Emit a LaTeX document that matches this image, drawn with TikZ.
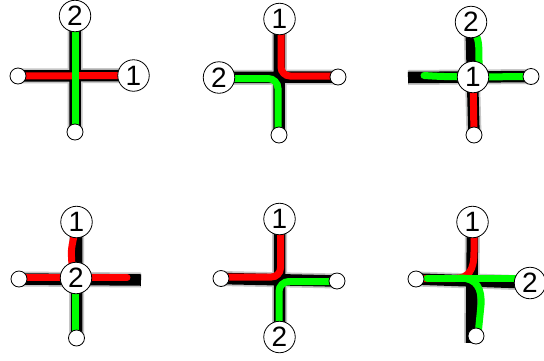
\documentclass[tikz,border=0pt]{standalone}
\usepackage{fontspec}
\setmainfont{Liberation Sans}
\definecolor{pred}{RGB}{255,0,0}
\definecolor{pgreen}{RGB}{0,255,0}
\begin{document}
\begin{tikzpicture}[x=1pt,y=-1pt,
  shadow/.style={draw=gray!45,line width=15pt,line cap=butt},
  wire/.style={draw=black,line width=11.5pt,line cap=butt},
  rw/.style={draw=pred,line width=7pt,line cap=round},
  gw/.style={draw=pgreen,line width=7pt,line cap=round},
  num/.style={circle,draw=black,fill=white,line width=0.8pt,minimum size=31.5pt,inner sep=0pt,font=\fontsize{28}{28}\selectfont},
  term/.style={circle,draw=black,fill=white,line width=0.8pt,minimum size=16pt,inner sep=0pt}]
\useasboundingbox[fill=white] (0,0) rectangle (544,360);
% ---------- coordinates ----------
% panel A
\coordinate (A1) at (133.5,75.5);
\coordinate (A2) at (75,16);
\coordinate (Al) at (18,76);
\coordinate (Ab) at (75,132);
% panel B
\coordinate (B1) at (279.5,19);
\coordinate (B2) at (219,77.5);
\coordinate (Br) at (338,77);
\coordinate (Bb) at (279,135);
\coordinate (Brc) at (281,76);
\coordinate (Bgc) at (278,78.5);
% panel C
\coordinate (C1) at (473,77);
\coordinate (C2) at (471,22);
\coordinate (Cr) at (531,76.5);
\coordinate (Cb) at (474,135);
\coordinate (Cle) at (408,77.5);
% panel D
\coordinate (D1) at (76.5,222);
\coordinate (D2) at (76,278);
\coordinate (Dl) at (19,279);
\coordinate (Db) at (76.5,338);
\coordinate (Dre) at (141,280);
% panel E
\coordinate (E1) at (279.5,219);
\coordinate (E2) at (279.5,337);
\coordinate (El) at (221,278.5);
\coordinate (Er) at (337,281);
\coordinate (Erc) at (280.5,277);
\coordinate (Egc) at (279,281.5);
% panel F
\coordinate (F1) at (472.5,222);
\coordinate (F2) at (530,283);
\coordinate (Fl) at (416,279);
\coordinate (Fb) at (476,336);
\coordinate (Fbe) at (471.5,343);
% ---------- black tracks ----------
\draw[shadow] (Al) -- (A1) (A2) -- (Ab);
\draw[wire] (Al) -- (A1) (A2) -- (Ab);
\draw[shadow] (B2) -- (Br) (B1) -- (Bb);
\draw[wire] (B2) -- (Br) (B1) -- (Bb);
\draw[shadow] (Cle) -- (Cr) (C2) -- (Cb);
\draw[wire] (Cle) -- (Cr) (C2) -- (Cb);
\draw[shadow] (Dl) -- (Dre) (D1) -- (Db);
\draw[wire] (Dl) -- (Dre) (D1) -- (Db);
\draw[shadow] (El) -- (Er) (E1) -- (E2);
\draw[wire] (El) -- (Er) (E1) -- (E2);
\draw[shadow] (Fl) -- (F2) (F1) -- (Fbe);
\draw[wire] (Fl) -- (F2) (F1) -- (Fbe);
% ---------- coloured routes ----------
% A
\draw[rw] (Al) -- (A1);
\draw[gw] (A2) -- (Ab);
% B
\draw[rw,rounded corners=9pt] (B1 -| Brc) -- (Brc) -- (Brc -| Br);
\draw[gw,rounded corners=10pt] (B2 |- Bgc) -- (Bgc) -- (Bgc |- Bb);
% C
\draw[rw] (C1) -- (Cb);
\draw[gw] (473,30) .. controls (479,40) .. (479,66);
\draw[gw] (424,75.5) .. controls (440,76.5) .. (C1);
\draw[gw] (C1) -- (Cr);
% D
\draw[rw] (Dl |- 0,277.5) -- (D2 |- 0,277.5);
\draw[rw] (D2 |- 0,277.5) -- (127,277.5);
\draw[rw] (74,236) .. controls (71,250) .. (72,265);
\draw[gw] (75.5,278) -- (75.5,338);
% E
\draw[rw,rounded corners=9pt] (E1 -| Erc) -- (Erc) -- (Erc -| El);
\draw[gw,rounded corners=10pt] (Er |- Egc) -- (Egc) -- (Egc |- E2);
% F
\draw[rw] (474,222) -- (474,252) .. controls (474,270) and (469,278) .. (455,278.5) -- (Fl |- 0,278.5);
\draw[gw] (427,278) -- (525,278);
\draw[gw] (460,278) .. controls (477,278) and (482,289) .. (481,305) -- (478.5,330);
% ---------- circles ----------
\node[num] (nA1) at (A1) {1};
\node[num] (nA2) at (A2) {2};
\node[term] (tAl) at (Al) {};
\node[term] (tAb) at (Ab) {};
\node[num] (nB1) at (B1) {1};
\node[num] (nB2) at (B2) {2};
\node[term] (tBr) at (Br) {};
\node[term] (tBb) at (Bb) {};
\node[num] (nC1) at (C1) {1};
\node[num] (nC2) at (C2) {2};
\node[term] (tCr) at (Cr) {};
\node[term] (tCb) at (Cb) {};
\node[num] (nD1) at (D1) {1};
\node[num] (nD2) at (D2) {2};
\node[term] (tDl) at (Dl) {};
\node[term] (tDb) at (Db) {};
\node[num] (nE1) at (E1) {1};
\node[num] (nE2) at (E2) {2};
\node[term] (tEl) at (El) {};
\node[term] (tEr) at (Er) {};
\node[num] (nF1) at (F1) {1};
\node[num] (nF2) at (F2) {2};
\node[term] (tFl) at (Fl) {};
\node[term] (tFb) at (Fb) {};
\end{tikzpicture}
\end{document}
